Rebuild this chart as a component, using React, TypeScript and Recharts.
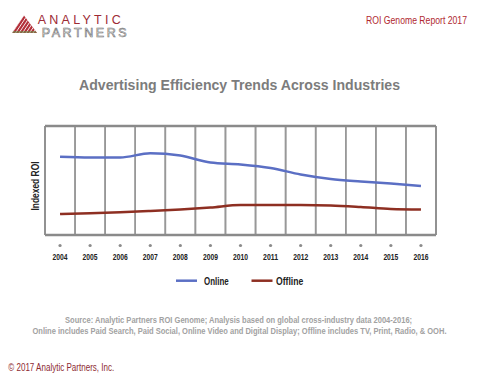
import React from "react";
import { LineChart, Line, XAxis, YAxis, ReferenceLine, Legend, CartesianGrid } from "recharts";

const years = [2004, 2005, 2006, 2007, 2008, 2009, 2010, 2011, 2012, 2013, 2014, 2015, 2016];
const online = [71.8, 71.1, 71.1, 75.0, 72.9, 66.5, 64.7, 61.5, 55.5, 51.4, 49.1, 47.2, 45.0];
const offline = [19.3, 19.9, 20.8, 22.0, 23.4, 25.2, 27.5, 27.5, 27.5, 27.1, 25.7, 23.9, 23.4];
const seriesNames = ["Online", "Offline"];
const seriesColors = ["#5b6fc4", "#8e2f22"];

const data = years.map((y, i) => ({ year: y, Online: online[i], Offline: offline[i] }));
const boundaries = years.slice(1).map((y) => y - 0.5);
const xMin = years[0] - 0.5;
const xMax = years[years.length - 1] + 0.5;

const sans = "'Liberation Sans', Arial, sans-serif";

const YearTick = (props: any) => {
  const { x, y, payload } = props;
  return (
    <g>
      <circle cx={x} cy={y + 2.5} r={1.6} fill="#8c8c8c" />
      <text x={x} y={y + 16.5} textAnchor="middle" fontFamily={sans} fontWeight="bold" fontSize={8.4} fill="#222" textLength={15} lengthAdjust="spacingAndGlyphs">
        {payload.value}
      </text>
    </g>
  );
};

const legendTextLen = [24.7, 27.3];
const LegendContent = () => (
  <svg width={480} height={20} style={{ display: "block", overflow: "visible" }}>
    <line x1={176} x2={197} y1={6.7} y2={6.7} stroke={seriesColors[0]} strokeWidth={2.5} />
    <text x={204} y={11.3} fontFamily={sans} fontWeight="bold" fontSize={10} fill="#222" textLength={legendTextLen[0]} lengthAdjust="spacingAndGlyphs">{seriesNames[0]}</text>
    <line x1={251.5} x2={272.5} y1={6.7} y2={6.7} stroke={seriesColors[1]} strokeWidth={2.5} />
    <text x={276} y={11.3} fontFamily={sans} fontWeight="bold" fontSize={10} fill="#222" textLength={legendTextLen[1]} lengthAdjust="spacingAndGlyphs">{seriesNames[1]}</text>
  </svg>
);

export default function App() {
  return (
    <div style={{ position: "absolute", left: 0, top: 0, width: 480, height: 384, background: "#fff", overflow: "hidden" }}>
      <div style={{ position: "absolute", left: 0, top: 0 }}>
        <LineChart width={480} height={384} data={data} margin={{ top: 126, bottom: 119, left: 45, right: 44 }}>
          <CartesianGrid xAxisId="grid" horizontal={false} stroke="#989898" strokeWidth={1.6} />
          <XAxis dataKey="year" type="number" domain={[xMin, xMax]} ticks={years} axisLine={false} tickLine={false} tick={<YearTick />} interval={0} height={30} />
          <XAxis xAxisId="grid" dataKey="year" type="number" domain={[xMin, xMax]} ticks={boundaries} interval={0} hide />
          <YAxis type="number" domain={[0, 100]} hide />
          {boundaries.map((b) => (
            <ReferenceLine key={"g" + b} x={b} stroke="#989898" strokeWidth={1.6} ifOverflow="visible" />
          ))}
          <ReferenceLine x={xMin} stroke="#8a8a8a" strokeWidth={1.5} />
          <ReferenceLine x={xMax} stroke="#8a8a8a" strokeWidth={1.5} />
          <ReferenceLine y={100} stroke="#8a8a8a" strokeWidth={2.5} />
          <ReferenceLine y={0} stroke="#8a8a8a" strokeWidth={2.5} />
          <Line type="monotone" dataKey="Online" stroke={seriesColors[0]} strokeWidth={2.5} dot={false} isAnimationActive={false} />
          <Line type="monotone" dataKey="Offline" stroke={seriesColors[1]} strokeWidth={2.5} dot={false} isAnimationActive={false} />
          <Legend content={<LegendContent />} wrapperStyle={{ position: "absolute", top: 274, left: 0, width: 480, height: 0, overflow: "visible" }} />
        </LineChart>
      </div>
      <svg width={480} height={384} style={{ position: "absolute", left: 0, top: 0, pointerEvents: "none" }}>
        <defs>
          <clipPath id="tri">
            <polygon points="12,33 24,15.5 37,33" />
          </clipPath>
        </defs>
        <g clipPath="url(#tri)">
          <rect x={10} y={14} width={30} height={20} fill="#b3303a" />
          {[0, 1, 2, 3, 4, 5, 6].map((k) => (
            <line key={k} x1={12 + k * 3.5} y1={33} x2={24 + k * 3.5} y2={15} stroke="#fff" strokeWidth={0.9} />
          ))}
          <rect x={10} y={31} width={30} height={2} fill="#6a8a4a" opacity={0.6} />
        </g>
        <text x={37.7} y={24} fontFamily={sans} fontSize={12.5} fill="#9d2a33" textLength={83} lengthAdjust="spacing">ANALYTIC</text>
        <text x={41.7} y={36.7} fontFamily={sans} fontSize={12.5} fill="#fff" stroke="#6d6d6d" strokeWidth={0.6} textLength={85} lengthAdjust="spacing">PARTNERS</text>
        <text x={467} y={24} textAnchor="end" fontFamily={sans} fontSize={10} fill="#b0282f" textLength={101} lengthAdjust="spacingAndGlyphs">ROI Genome Report 2017</text>
        <text x={239.5} y={90} textAnchor="middle" fontFamily={sans} fontWeight="bold" fontSize={15.5} fill="#7c7c7c" textLength={321} lengthAdjust="spacingAndGlyphs">Advertising Efficiency Trends Across Industries</text>
        <text x={0} y={0} transform="translate(38.5,186) rotate(-90)" textAnchor="middle" fontFamily={sans} fontWeight="bold" fontSize={10.5} fill="#222" textLength={49} lengthAdjust="spacingAndGlyphs">Indexed ROI</text>
        <text x={238.6} y={323.3} textAnchor="middle" fontFamily={sans} fontWeight="bold" fontSize={8.6} fill="#a2a2a2" textLength={347} lengthAdjust="spacingAndGlyphs">Source: Analytic Partners ROI Genome; Analysis based on global cross-industry data 2004-2016;</text>
        <text x={239.5} y={333.5} textAnchor="middle" fontFamily={sans} fontWeight="bold" fontSize={8.6} fill="#a2a2a2" textLength={414} lengthAdjust="spacingAndGlyphs">Online includes Paid Search, Paid Social, Online Video and Digital Display; Offline includes TV, Print, Radio, &amp; OOH.</text>
        <text x={8.3} y={371} fontFamily={sans} fontSize={10} fill="#8e2b33" textLength={106} lengthAdjust="spacingAndGlyphs">© 2017 Analytic Partners, Inc.</text>
      </svg>
    </div>
  );
}
